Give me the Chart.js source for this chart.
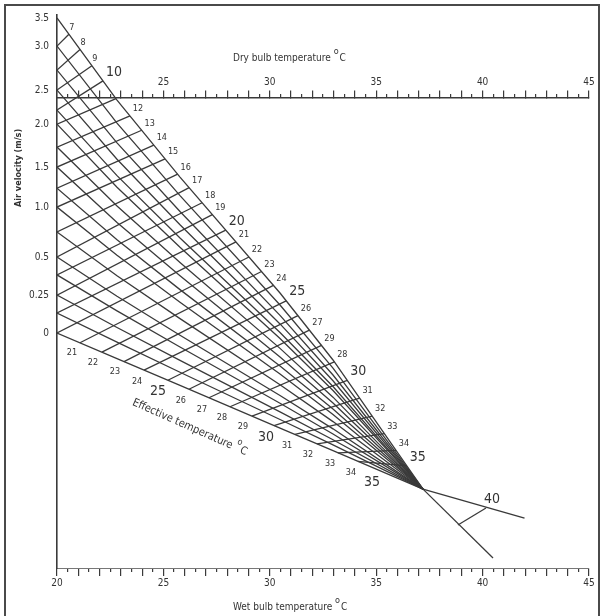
<!DOCTYPE html>
<html>
<head>
<meta charset="utf-8">
<script src="https://cdn.jsdelivr.net/npm/chart.js@4.4.0/dist/chart.umd.min.js"></script>
<style>
  html, body { margin: 0; padding: 0; background: #fff; overflow: hidden; }
  #wrap { position: relative; width: 603px; height: 616px; overflow: hidden; }
  #frame { position: absolute; left: 4px; top: 4px; width: 592px; height: 630px; border: 2px solid #4a4a4a; pointer-events: none; }
</style>
</head>
<body>
<div id="wrap">
  <canvas id="etChart" width="603" height="616"></canvas>
  <div id="frame"></div>
</div>
<script>
const ink = "#3a3a3a";
const fontStack = "'Liberation Sans Narrow','DejaVu Sans Condensed','Liberation Sans',Arial,sans-serif";

// temperature scales (deg C), dry bulb on top, wet bulb at the bottom
const tempMin = 20;
const tempMax = 45;
const tempLabels = [20, 25, 30, 35, 40, 45];

// air velocity nodes on the left edge (m/s), top to bottom, and their height on the chart
const velocities = [3.5, 3.0, 2.75, 2.5, 2.25, 2.0, 1.75, 1.5, 1.25, 1.0, 0.75, 0.5, 0.4, 0.25, 0.1, 0];
const velocityHeight = [25.86, 24.54, 23.41, 22.47, 21.53, 20.87, 19.79, 18.85, 17.86, 16.97, 15.80, 14.62, 13.78, 12.83, 11.99, 11.05];
const velocityLabels = ["3.5", "3.0", "", "2.5", "", "2.0", "", "1.5", "", "1.0", "", "0.5", "", "0.25", "", "0"];

// the 3.5 m/s edge, bent, running down to the point where all lines meet
const edgeTop = [[20, 25.86], [22.82, 22.00], [25.78, 18.38], [30.48, 12.93], [32.97, 9.78]];
const meetPoint = [37.2, 3.71];

// effective temperature lines: where they meet the 3.5 m/s edge (read on the temperature scale)
const etTop = [7, 8, 9, 10, 11, 12, 13, 14, 15, 16, 17, 18, 19, 20, 21, 22, 23, 24, 25, 26, 27, 28, 29, 30, 31, 32, 33, 34, 35];
const etTopAt = [20.56, 21.08, 21.64, 22.16, 22.77, 23.43, 23.98, 24.55, 25.08, 25.67, 26.21, 26.82, 27.30, 27.93, 28.41,
  29.02, 29.61, 30.17, 30.77, 31.32, 31.86, 32.43, 33.03, 33.64, 34.22, 34.81, 35.38, 35.93, 36.44];
// printed as on the original (the 28/29 swap included)
const etTopLabels = ["7", "8", "9", "10", "", "12", "13", "14", "15", "16", "17", "18", "19", "20", "21",
  "22", "23", "24", "25", "26", "27", "29", "28", "30", "31", "32", "33", "34", "35"];

// ET 7..21 end on the velocity scale (3.0 m/s down to 0 m/s)
const etLeft = [7, 8, 9, 10, 11, 12, 13, 14, 15, 16, 17, 18, 19, 20, 21];
// ET 22..35 end on the still air edge (read on the wet bulb scale)
const etBottom = [22, 23, 24, 25, 26, 27, 28, 29, 30, 31, 32, 33, 34, 35];
const etBottomAt = [21.08, 22.11, 23.15, 24.09, 25.21, 26.20, 27.14, 28.13, 29.16, 30.20, 31.18, 32.22, 33.20, 34.14];
const bigLabels = ["10", "20", "25", "30", "35", "40"];

// the two lines past the meeting point and the 40 mark between them
const tailA = [41.97, 2.35];
const tailB = [40.49, 0.47];
const mark40 = [[40.16, 2.82], [38.84, 2.02]];

const dryBulbHeight = 22.1;

//helpers to read the bent edges
const interp = (pts, x) => {
  for (let i = 0; i < pts.length - 1; i++) {
    const a = pts[i], b = pts[i + 1];
    if (x >= a[0] && x <= b[0]) return a[1] + (b[1] - a[1]) * (x - a[0]) / (b[0] - a[0]);
  }
  return pts[pts.length - 1][1];
};
const topEdge = edgeTop.concat([meetPoint]);
const hZero = velocityHeight[velocityHeight.length - 1];
const stillEdge = [[tempMin, hZero], meetPoint];
const topAt = (x) => interp(topEdge, x);
const stillAt = (x) => interp(stillEdge, x);

const datasets = [];
const addLine = (pts) => {
  datasets.push({
    data: pts.map(p => ({ x: p[0], y: p[1] })),
    showLine: true,
    pointRadius: 0,
    borderColor: ink,
    borderWidth: 1.3,
    tension: 0,
  });
};

// velocity lines: each sits between the still air edge and the 3.5 m/s edge
for (let i = 0; i < velocities.length; i++) {
  const f = (velocityHeight[i] - hZero) / (velocityHeight[0] - hZero);
  addLine(topEdge.map(p => [p[0], (1 - f) * stillAt(p[0]) + f * p[1]]));
}

// effective temperature lines
etTop.forEach((e, i) => {
  const top = [etTopAt[i], topAt(etTopAt[i])];
  let low;
  const li = etLeft.indexOf(e);
  if (li >= 0) {
    low = [tempMin, velocityHeight[li + 1]];
  } else {
    const bx = etBottomAt[etBottom.indexOf(e)];
    low = [bx, stillAt(bx)];
  }
  addLine([low, top]);
});

addLine([meetPoint, tailA]);
addLine([meetPoint, tailB]);
addLine(mark40);

const wholeDeg = [];
const halfDeg = [];
for (let t = tempMin; t <= tempMax; t++) {
  wholeDeg.push(t);
  if (t < tempMax) halfDeg.push(t + 0.5);
}

function writeWithDegree(ctx, text, x, y, rot, size) {
  ctx.save();
  ctx.translate(x, y);
  ctx.rotate(rot);
  ctx.textAlign = "left";
  ctx.textBaseline = "middle";
  ctx.font = size + "px " + fontStack;
  ctx.fillText(text, 0, 0);
  const w = ctx.measureText(text + " ").width;
  ctx.font = Math.round(size * 0.85) + "px " + fontStack;
  ctx.fillText("o", w, -size * 0.6);
  const wo = ctx.measureText("o").width;
  ctx.font = size + "px " + fontStack;
  ctx.fillText("C", w + wo + 1, 0);
  ctx.restore();
}

const textPlugin = {
  id: "chartText",
  afterDraw(chart) {
    const { ctx } = chart;
    const sx = chart.scales.x, sy = chart.scales.y;
    const px = (v) => sx.getPixelForValue(v);
    const py = (v) => sy.getPixelForValue(v);
    ctx.save();
    ctx.fillStyle = "#333";
    ctx.textAlign = "center";
    ctx.textBaseline = "middle";

    etTop.forEach((e, i) => {
      const t = etTopLabels[i];
      if (!t) return;
      const big = bigLabels.includes(t);
      ctx.font = (big ? 14 : 9) + "px " + fontStack;
      let dx = big ? 11 : 8, dy = big ? -9 : -7;
      if (e < 10) { dx = 3; dy = -7; }
      ctx.fillText(t, px(etTopAt[i]) + dx, py(topAt(etTopAt[i])) + dy);
    });

    ctx.font = "9px " + fontStack;
    ctx.fillText("21", px(tempMin) + 15, py(hZero) + 20);
    etBottom.forEach((e, i) => {
      const t = String(e);
      const big = bigLabels.includes(t);
      ctx.font = (big ? 14 : 9) + "px " + fontStack;
      const bx = etBottomAt[i];
      ctx.fillText(t, px(bx) + (big ? 14 : 13), py(stillAt(bx)) + (big ? 21 : 20));
    });

    ctx.font = "14px " + fontStack;
    ctx.fillText("40", px(mark40[0][0]) + 6, py(mark40[0][1]) - 9);

    writeWithDegree(ctx, "Dry bulb temperature", px(28.27), py(23.98), 0, 10);
    writeWithDegree(ctx, "Wet bulb temperature", px(28.27), py(-1.83), 0, 10);
    writeWithDegree(ctx, "Effective temperature", px(23.57), py(7.8), 24 * Math.PI / 180, 11);

    ctx.save();
    ctx.translate(px(18.21), py(18.81));
    ctx.rotate(-Math.PI / 2);
    ctx.font = "bold 9px " + fontStack;
    ctx.fillText("Air velocity (m/s)", 0, 0);
    ctx.restore();

    ctx.restore();
  },
};

const tickFont = { size: 10, family: fontStack };

new Chart("etChart", {
  type: "scatter",
  data: { datasets: datasets },
  options: {
    responsive: false,
    animation: false,
    layout: { padding: { top: 15, right: 14, bottom: 0, left: 0 } },
    plugins: { legend: { display: false }, tooltip: { enabled: false } },
    scales: {
      x: {
        type: "linear",
        position: "bottom",
        min: tempMin,
        max: tempMax,
        afterBuildTicks: (s) => { s.ticks = wholeDeg.map(v => ({ value: v })); },
        afterFit: (s) => { s.height = 48; },
        ticks: {
          autoSkip: false,
          maxRotation: 0,
          padding: 1,
          font: tickFont,
          color: "#333",
          callback: (v) => (tempLabels.includes(v) ? String(v) : ""),
        },
        grid: { drawOnChartArea: false, tickLength: 8, color: ink, lineWidth: 1.2 },
        border: { color: "#777", width: 1 },
      },
      xWbHalf: {
        type: "linear",
        axis: "x",
        position: { y: 0 },
        min: tempMin,
        max: tempMax,
        afterBuildTicks: (s) => { s.ticks = halfDeg.map(v => ({ value: v })); },
        ticks: { display: false },
        grid: { drawOnChartArea: false, tickLength: 4, color: ink, lineWidth: 1.2 },
        border: { display: false },
      },
      xDry: {
        type: "linear",
        axis: "x",
        position: { y: dryBulbHeight },
        min: tempMin,
        max: tempMax,
        afterBuildTicks: (s) => { s.ticks = wholeDeg.filter(v => v > tempMin).map(v => ({ value: v })); },
        ticks: {
          autoSkip: false,
          maxRotation: 0,
          padding: -14,
          font: tickFont,
          color: "#333",
          callback: (v) => (tempLabels.includes(v) ? String(v) : ""),
        },
        grid: { drawOnChartArea: false, tickLength: -8, color: ink, lineWidth: 1.2 },
        border: { color: ink, width: 1.6 },
      },
      xDryHalf: {
        type: "linear",
        axis: "x",
        position: { y: dryBulbHeight },
        min: tempMin,
        max: tempMax,
        afterBuildTicks: (s) => { s.ticks = halfDeg.map(v => ({ value: v })); },
        ticks: { display: false },
        grid: { drawOnChartArea: false, tickLength: -4, color: ink, lineWidth: 1.2 },
        border: { display: false },
      },
      y: {
        type: "linear",
        position: "left",
        min: 0,
        max: 26,
        afterBuildTicks: (s) => {
          s.ticks = velocityHeight.filter((h, i) => velocityLabels[i] !== "").map(v => ({ value: v }));
        },
        afterFit: (s) => { s.width = 57; },
        ticks: {
          autoSkip: false,
          padding: 8,
          font: tickFont,
          color: "#333",
          callback: (v) => velocityLabels[velocityHeight.indexOf(v)],
        },
        grid: { drawOnChartArea: false, drawTicks: false },
        border: { color: ink, width: 1.6 },
      },
    },
  },
  plugins: [textPlugin],
});
</script>
</body>
</html>
